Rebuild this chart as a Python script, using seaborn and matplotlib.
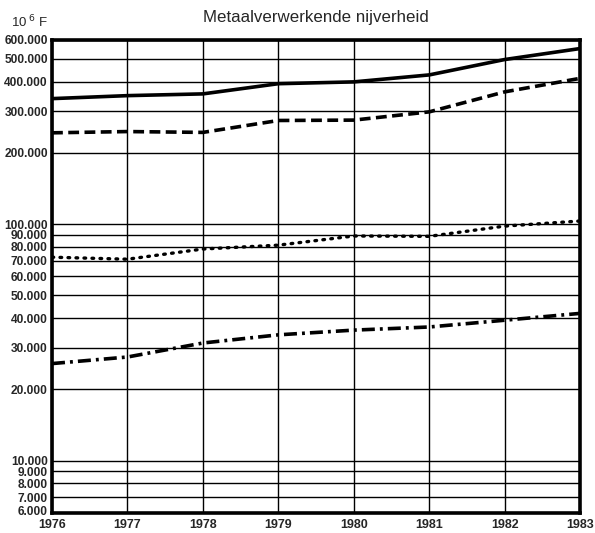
import numpy as np
import pandas as pd
import matplotlib
matplotlib.use("Agg")
import matplotlib.pyplot as plt
import matplotlib.transforms as mtransforms
import seaborn as sns

# =====================================================
# DATA (10^6 F)
# =====================================================

years = [1976, 1977, 1978, 1979, 1980, 1981, 1982, 1983]

solid_values = [339000, 349000, 355000, 392000, 399000, 427000, 496000, 552000]
dashed_values = [243000, 246000, 244000, 274000, 275000, 298000, 362000, 413000]
dotted_values = [72400, 71000, 78400, 81400, 89000, 88700, 98000, 103000]
dashdot_values = [25700, 27400, 31400, 34000, 35600, 36700, 39200, 41900]

y_ticks = [6000, 7000, 8000, 9000, 10000, 20000, 30000, 40000, 50000,
           60000, 70000, 80000, 90000, 100000, 200000, 300000, 400000,
           500000, 600000]
y_tick_labels = [f"{v:,}".replace(",", ".") for v in y_ticks]

title_text = "Metaalverwerkende nijverheid"

# =====================================================
# STYLE
# =====================================================

sns.set_style("white")
plt.rcParams["font.family"] = ["Liberation Sans", "DejaVu Sans"]

fig = plt.figure(figsize=(5.95, 5.33), dpi=100)
ax = fig.add_axes([0.0874, 0.0375, 0.8876, 0.8875])

df = pd.DataFrame({
    "year": years * 4,
    "value": solid_values + dashed_values + dotted_values + dashdot_values,
    "series": (["solid"] * 8 + ["dashed"] * 8
               + ["dotted"] * 8 + ["dashdot"] * 8),
})

line_styles = {
    "solid": dict(linestyle="-", linewidth=2.6),
    "dashed": dict(linestyle=(0, (3.0, 1.5)), linewidth=2.6),
    "dotted": dict(linestyle=(0, (0.5, 1.9)), linewidth=2.4,
                   dash_capstyle="round"),
    "dashdot": dict(linestyle=(0, (3.6, 1.4, 0.8, 1.4)), linewidth=2.6),
}

for name, kw in line_styles.items():
    sub = df[df["series"] == name]
    sns.lineplot(data=sub, x="year", y="value", ax=ax, color="black",
                 legend=False, zorder=3, **kw)

# =====================================================
# AXES
# =====================================================

ax.set_yscale("log")
ax.set_ylim(6000, 600000)
ax.set_xlim(1976, 1983)

ax.set_yticks(y_ticks)
ax.set_yticklabels(y_tick_labels, fontsize=8.6, fontweight="bold")
ax.yaxis.set_minor_locator(matplotlib.ticker.NullLocator())
ax.set_xticks(years)
ax.set_xticklabels([str(y) for y in years], fontsize=9,
                   fontweight="bold")

ax.tick_params(axis="y", length=0, pad=3)
ax.tick_params(axis="x", length=0, pad=4)
ax.set_xlabel("")
ax.set_ylabel("")

# the lowest label sits a little higher, just above the bottom frame
lift = mtransforms.ScaledTranslation(0, 3 / 100, fig.dpi_scale_trans)
low_label = ax.get_yticklabels()[0]
low_label.set_transform(low_label.get_transform() + lift)

ax.grid(True, which="major", color="black", linewidth=1.0)

for side in ["left", "bottom", "top", "right"]:
    ax.spines[side].set_visible(True)
    ax.spines[side].set_color("black")
    ax.spines[side].set_linewidth(2.6)

# =====================================================
# TEXT
# =====================================================

fig.text(0.531, 0.968, title_text, ha="center", va="center", fontsize=12.2)
fig.text(0.018, 0.958, r"10$^{\ 6}$ F", ha="left", va="center",
         fontsize=9.5)

fig.savefig("out.png", dpi=100)
plt.close(fig)
